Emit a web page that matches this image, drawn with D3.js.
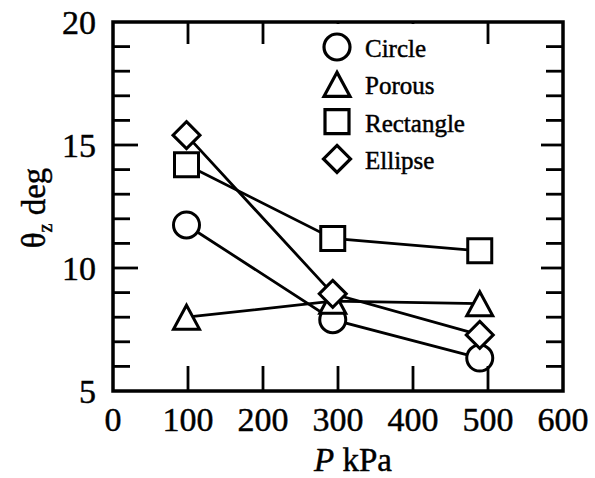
<!DOCTYPE html>
<html>
<head>
<meta charset="utf-8">
<script src="https://d3js.org/d3.v7.min.js"></script>
<style>
  body { margin: 0; background: #fff; }
  text { stroke: #000; stroke-width: 0.45; }
</style>
</head>
<body>
<svg width="595" height="478" font-family="'Liberation Serif', 'DejaVu Serif', serif"></svg>
<script>
// data
var pressure = [98, 293, 489];
var circleVals = [11.75, 7.9, 6.34];
var porousVals = [8.0, 8.65, 8.55];
var rectVals = [14.2, 11.2, 10.7];
var ellipseVals = [15.4, 8.95, 7.28];
var seriesNames = ["Circle", "Porous", "Rectangle", "Ellipse"];
var seriesShapes = ["circle", "triangle", "square", "diamond"];
var xTicks = [0, 100, 200, 300, 400, 500, 600];
var yTicks = [5, 10, 15, 20];
var yMinor = d3.range(6, 20);

var svg = d3.select("svg");
var x = d3.scaleLinear().domain([0, 600]).range([113, 563]);
var y = d3.scaleLinear().domain([5, 20]).range([391, 22]);

function shapePath(shape, cx, cy) {
  if (shape === "circle") {
    var r = 13;
    return "M" + (cx - r) + "," + cy + "a" + r + "," + r + " 0 1,0 " + (2 * r) + ",0a" + r + "," + r + " 0 1,0 " + (-2 * r) + ",0Z";
  }
  if (shape === "triangle") {
    var w = 13, h = 12;
    return "M" + cx + "," + (cy - h) + "L" + (cx + w) + "," + (cy + h) + "L" + (cx - w) + "," + (cy + h) + "Z";
  }
  if (shape === "square") {
    var s = 12;
    return "M" + (cx - s) + "," + (cy - s) + "h" + (2 * s) + "v" + (2 * s) + "h" + (-2 * s) + "Z";
  }
  var d = 13.5;
  return "M" + cx + "," + (cy - d) + "L" + (cx + d) + "," + cy + "L" + cx + "," + (cy + d) + "L" + (cx - d) + "," + cy + "Z";
}

var series = [circleVals, porousVals, rectVals, ellipseVals].map(function(vals, i) {
  return { name: seriesNames[i], shape: seriesShapes[i], points: vals.map(function(v, j) { return [pressure[j], v]; }) };
});

// lines
var line = d3.line().x(function(d) { return x(d[0]); }).y(function(d) { return y(d[1]); });
svg.append("g").selectAll("path").data(series).enter().append("path")
  .attr("d", function(d) { return line(d.points); })
  .attr("fill", "none").attr("stroke", "#000").attr("stroke-width", 2.8);

// markers
series.forEach(function(s) {
  svg.append("g").selectAll("path").data(s.points).enter().append("path")
    .attr("d", function(p) { return shapePath(s.shape, x(p[0]), y(p[1])); })
    .attr("fill", "#fff").attr("stroke", "#000").attr("stroke-width", 3);
});

// ticks
var tickG = svg.append("g").attr("stroke", "#000").attr("stroke-width", 2.8);
var inner = xTicks.filter(function(t) { return t > 0 && t < 600; });
tickG.selectAll(".xb").data(inner).enter().append("line")
  .attr("x1", d => x(d)).attr("x2", d => x(d)).attr("y1", y(5)).attr("y2", y(5) - 25);
tickG.selectAll(".xt").data(inner).enter().append("line")
  .attr("x1", d => x(d)).attr("x2", d => x(d)).attr("y1", y(20)).attr("y2", y(20) + 22);
tickG.selectAll(".yl").data(yMinor).enter().append("line")
  .attr("x1", x(0)).attr("x2", d => x(0) + (d % 5 === 0 ? 25 : 17)).attr("y1", d => y(d)).attr("y2", d => y(d));
tickG.selectAll(".yr").data(yMinor).enter().append("line")
  .attr("x1", x(600)).attr("x2", d => x(600) - (d % 5 === 0 ? 22 : 17)).attr("y1", d => y(d)).attr("y2", d => y(d));

// legend
var legend = svg.append("g");
legend.append("rect").attr("x", 318).attr("y", 24).attr("width", 158).attr("height", 152).attr("fill", "#fff");
var lg = legend.selectAll("g").data(series).enter().append("g")
  .attr("transform", function(d, i) { return "translate(0," + (47 + i * 37.3) + ")"; });
lg.append("path").attr("d", function(d) { return shapePath(d.shape, 337, 0); })
  .attr("fill", "#fff").attr("stroke", "#000").attr("stroke-width", 3.2);
lg.append("text").attr("x", 365).attr("y", 10).attr("font-size", 25).text(function(d) { return d.name; });

// frame
svg.append("rect").attr("x", x(0)).attr("y", y(20)).attr("width", x(600) - x(0)).attr("height", y(5) - y(20))
  .attr("fill", "none").attr("stroke", "#000").attr("stroke-width", 3.5);

// tick labels
svg.append("g").selectAll("text").data(xTicks).enter().append("text")
  .attr("x", d => x(d)).attr("y", 431).attr("text-anchor", "middle").attr("font-size", 34).text(d => d);
svg.append("g").selectAll("text").data(yTicks).enter().append("text")
  .attr("x", 96).attr("y", d => y(d) + 12).attr("text-anchor", "end").attr("font-size", 34).text(d => d);

// axis titles
var xl = svg.append("text").attr("x", 353).attr("y", 471).attr("text-anchor", "middle").attr("font-size", 33);
xl.append("tspan").attr("font-style", "italic").text("P");
xl.append("tspan").text(" kPa");

var yl = svg.append("text").attr("transform", "translate(45,208) rotate(-90)").attr("text-anchor", "middle").attr("font-size", 33);
yl.append("tspan").text("θ");
yl.append("tspan").attr("font-size", 20).attr("dy", 7).text("z");
yl.append("tspan").attr("dy", -7).text(" deg");
</script>
</body>
</html>
